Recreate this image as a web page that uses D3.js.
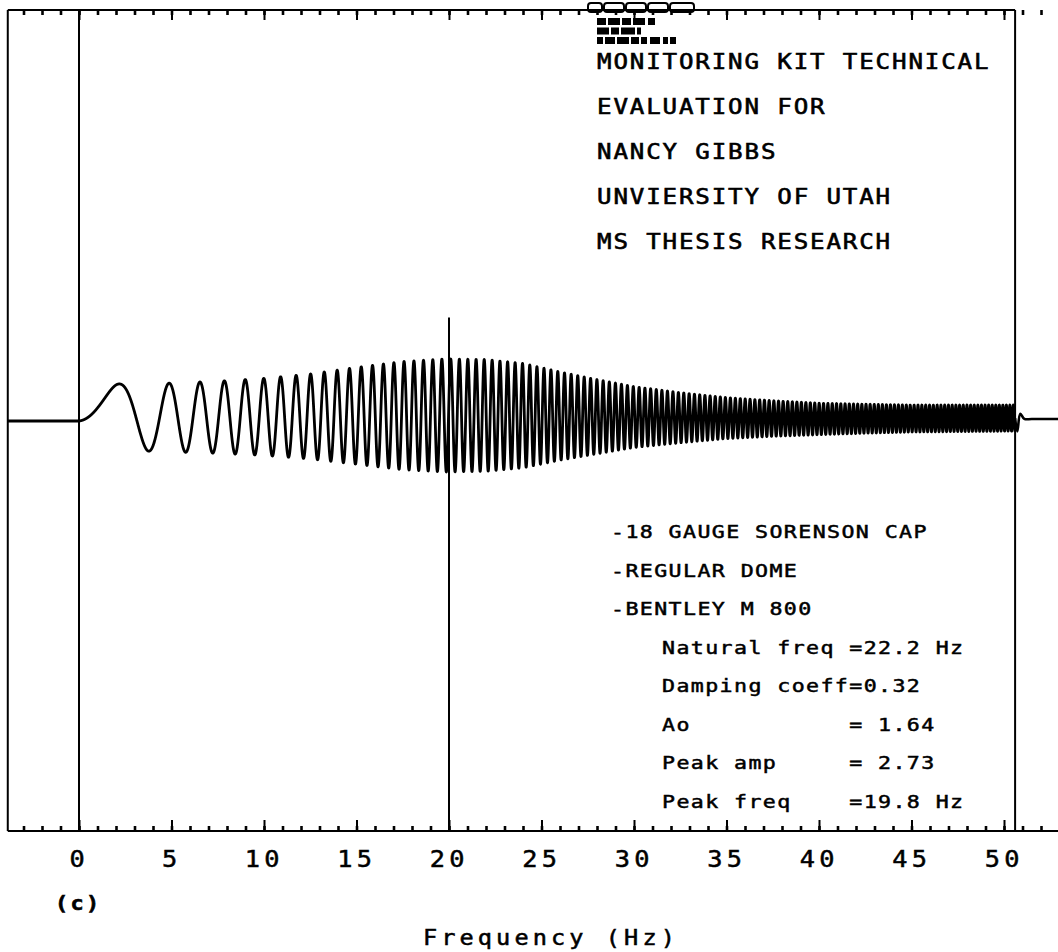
<!DOCTYPE html>
<html>
<head>
<meta charset="utf-8">
<script src="https://cdn.jsdelivr.net/npm/d3@7"></script>
<style>
  html, body { margin: 0; padding: 0; background: #fff; }
  svg { display: block; }
  text { fill: #000; white-space: pre; }
</style>
</head>
<body>
<svg id="chart" width="1058" height="952"></svg>
<script>
// ---- Data -------------------------------------------------------------
// Frequency-axis labels (Hz)
const tickLabels = [0, 5, 10, 15, 20, 25, 30, 35, 40, 45, 50];

// Swept sine: the drive frequency climbs linearly in time at this rate (Hz/s)
const sweepRate = 9.5;
const sweepEndHz = 50.6;

// Response envelope read along the sweep: half peak-to-peak amplitude and
// centre shift of the oscillation, at these frequencies (Hz)
const envFreq   = [0,    1,    2,    3.5,  5,    7.5,  10,   12.5, 15,   17.5, 19.8, 22,   24,   26,   28,   30,   32.5, 35,   37.5, 40,   42.5, 45,   47.5, 50,   50.6];
const envAmp    = [1.64, 1.64, 1.62, 1.62, 1.66, 1.74, 1.86, 2.05, 2.34, 2.61, 2.73, 2.70, 2.52, 2.13, 1.79, 1.47, 1.21, 0.99, 0.86, 0.76, 0.70, 0.65, 0.64, 0.63, 0.63];
const envOffset = [0,    0.10, 0.17, 0.17, 0.17, 0.18, 0.20, 0.22, 0.25, 0.26, 0.27, 0.27, 0.26, 0.24, 0.21, 0.19, 0.16, 0.14, 0.12, 0.10, 0.11, 0.12, 0.13, 0.14, 0.14];

// Settling transient after the drive stops
const tailFreq  = [50.6, 50.72, 50.88, 51.1, 51.5, 53.0];
const tailValue = [0.14, -0.5,  0.35,  0.1,  0.1,  0.1];

// Flat trace before the sweep starts
const leadFreq  = [-3.85, 0];
const leadValue = [0, 0];

// Height of the 20 Hz marker line (trace units)
const markerHz = 20;
const markerTop = 5;

// Annotation text
const titleLines = [
  "MONITORING KIT TECHNICAL",
  "EVALUATION FOR",
  "NANCY GIBBS",
  "UNVIERSITY OF UTAH",
  "MS THESIS RESEARCH"
];
const setupLines = [
  "-18 GAUGE SORENSON CAP",
  "-REGULAR DOME",
  "-BENTLEY M 800"
];
const paramLines = [
  "Natural freq =22.2 Hz",
  "Damping coeff=0.32",
  "Ao           = 1.64",
  "Peak amp     = 2.73",
  "Peak freq    =19.8 Hz"
];
const panelTag = "(c)";
const xTitle = "Frequency (Hz)";

// ---- Layout -----------------------------------------------------------
const svg = d3.select("#chart");
const mono = "'DejaVu Sans Mono', 'Liberation Mono', monospace";

const x = d3.scaleLinear().domain([0, 50]).range([79, 1004]);
const y = d3.scaleLinear().domain([-5, 5]).range([524.5, 317.5]);

const frameLeftHz = -3.85;
const frameRightHz = 53.0;
const topY = 10;
const bottomY = 831;
const ink = "#000";

// ---- Frame ------------------------------------------------------------
svg.append("line")
  .attr("x1", x(frameLeftHz)).attr("x2", x(sweepEndHz))
  .attr("y1", topY).attr("y2", topY)
  .attr("stroke", ink).attr("stroke-width", 2);
svg.append("line")
  .attr("x1", x(frameLeftHz)).attr("x2", x(frameRightHz))
  .attr("y1", bottomY).attr("y2", bottomY)
  .attr("stroke", ink).attr("stroke-width", 2.2);
svg.append("line")
  .attr("x1", x(frameLeftHz)).attr("x2", x(frameLeftHz))
  .attr("y1", topY).attr("y2", bottomY)
  .attr("stroke", ink).attr("stroke-width", 2);

// Tick rows: minor every 1 Hz, major every 5 Hz
const minorHz = d3.range(-3, 53);
function tickRow(axisFn, yPos, values, size, width) {
  svg.append("g")
    .attr("transform", `translate(0,${yPos})`)
    .call(axisFn(x).tickValues(values).tickSize(size).tickSizeOuter(0).tickFormat(""))
    .call(g => g.select(".domain").remove())
    .call(g => g.selectAll(".tick line").attr("stroke", ink).attr("stroke-width", width));
}
tickRow(d3.axisBottom, topY, minorHz, 5, 2.6);
tickRow(d3.axisBottom, topY, tickLabels, 10, 2);
tickRow(d3.axisTop, bottomY, minorHz, 5, 2.6);
tickRow(d3.axisTop, bottomY, tickLabels, 11, 2);

// Vertical reference lines at 0 Hz, the marker and the sweep end
svg.append("line")
  .attr("x1", x(0)).attr("x2", x(0))
  .attr("y1", topY).attr("y2", bottomY)
  .attr("stroke", ink).attr("stroke-width", 2);
svg.append("line")
  .attr("x1", x(markerHz)).attr("x2", x(markerHz))
  .attr("y1", y(markerTop)).attr("y2", bottomY)
  .attr("stroke", ink).attr("stroke-width", 2);
svg.append("line")
  .attr("x1", x(sweepEndHz)).attr("x2", x(sweepEndHz))
  .attr("y1", topY).attr("y2", bottomY)
  .attr("stroke", ink).attr("stroke-width", 2);

// ---- Response trace ---------------------------------------------------
const ampAt = d3.scaleLinear().domain(envFreq).range(envAmp).clamp(true);
const offAt = d3.scaleLinear().domain(envFreq).range(envOffset).clamp(true);

// Phase of a linear sweep grows with f^2 / (2 * rate)
const trace = [];
leadFreq.forEach((f, i) => trace.push([f, leadValue[i]]));
const step = 0.004;
for (let f = step; f < sweepEndHz; f += step) {
  const cycles = (f * f) / (2 * sweepRate);
  trace.push([f, offAt(f) + ampAt(f) * Math.sin(2 * Math.PI * cycles)]);
}
const tail = tailFreq.map((f, i) => [f, tailValue[i]]);

const line = d3.line().x(d => x(d[0])).y(d => y(d[1]));
svg.append("path")
  .attr("d", line(trace))
  .attr("fill", "none").attr("stroke", ink)
  .attr("stroke-width", 2.8).attr("stroke-linejoin", "round");
svg.append("path")
  .attr("d", line.curve(d3.curveCatmullRom)(tail))
  .attr("fill", "none").attr("stroke", ink)
  .attr("stroke-width", 2.6).attr("stroke-linejoin", "round");

// ---- Plotter badge above the title -----------------------------------
const badge = svg.append("g").attr("fill", ink);
[[588, 14], [604, 20], [626, 20], [648, 20], [670, 24]].forEach(([bx, bw]) => {
  badge.append("rect").attr("x", bx).attr("y", 3).attr("width", bw).attr("height", 9)
    .attr("rx", 3).attr("fill", "none").attr("stroke", ink).attr("stroke-width", 2);
});
const badgeRows = [
  [[597, 9], [608, 12], [622, 9], [633, 12], [648, 7]],
  [[597, 12], [611, 8], [621, 14], [637, 4]],
  [[597, 6], [605, 10], [617, 12], [631, 8], [641, 6], [650, 10], [663, 5], [670, 6]]
];
badgeRows.forEach((row, r) => {
  row.forEach(([bx, bw]) => {
    badge.append("rect").attr("x", bx).attr("y", 18 + r * 9.5).attr("width", bw).attr("height", 7);
  });
});

// ---- Text -------------------------------------------------------------
// Plotter lettering: wide monospaced glyphs, set with a horizontal stretch
function plotText(sel, opts) {
  const s = opts.stretch;
  sel.attr("x", 0).attr("y", 0)
    .attr("font-family", mono)
    .attr("font-size", opts.size)
    .attr("font-weight", opts.bold ? "bold" : "normal")
    .attr("letter-spacing", opts.spacing)
    .attr("stroke", ink).attr("stroke-width", opts.weight || 0.5)
    .attr("transform", (d, i) => {
      const [tx, ty] = opts.at(d, i);
      return `translate(${tx},${ty}) scale(${s},1)`;
    });
  if (opts.anchor) sel.attr("text-anchor", opts.anchor).attr("dx", opts.spacing / 2);
  return sel;
}

svg.append("g").selectAll("text").data(titleLines).join("text")
  .text(d => d)
  .call(plotText, { size: 21, stretch: 1.15, spacing: 1.62, weight: 0.6, at: (d, i) => [597, 69 + i * 45] });

svg.append("g").selectAll("text").data(setupLines).join("text")
  .text(d => d)
  .call(plotText, { size: 18, stretch: 1.2, spacing: 1.17, weight: 0.5, at: (d, i) => [611, 538 + i * 38.5] });

svg.append("g").selectAll("text").data(paramLines).join("text")
  .text(d => d)
  .call(plotText, { size: 18, stretch: 1.2, spacing: 1.17, weight: 0.5, at: (d, i) => [662, 653.5 + i * 38.5] });

// Axis labels under the bottom frame
svg.append("g").selectAll("text").data(tickLabels).join("text")
  .text(d => d)
  .attr("style", "font-variant-numeric: slashed-zero")
  .call(plotText, { size: 23, stretch: 1.1, spacing: 3.9, weight: 0.5, anchor: "middle", at: d => [x(d) - 2, 867] });

svg.append("text").datum(panelTag)
  .text(d => d)
  .call(plotText, { size: 19, stretch: 1.15, spacing: 2.0, weight: 0.6, bold: true, at: () => [55, 910] });

svg.append("text").datum(xTitle)
  .text(d => d)
  .call(plotText, { size: 20.5, stretch: 1.15, spacing: 3.57, weight: 0.5, anchor: "middle", at: () => [x(25.4), 945] });
</script>
</body>
</html>
